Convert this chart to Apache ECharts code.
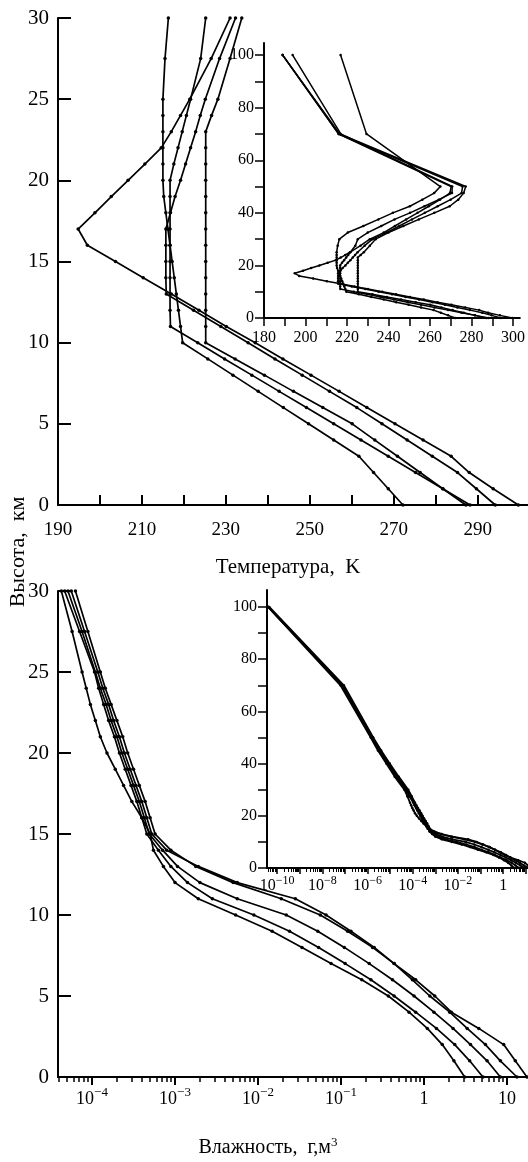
<!DOCTYPE html>
<html><head><meta charset="utf-8">
<script src="https://cdn.jsdelivr.net/npm/echarts@6/dist/echarts.min.js"></script>
<style>html,body{margin:0;padding:0;background:#fff}#c{width:528px;height:1162px}</style>
</head><body><div id="c"></div>
<script>
// ---------- DATA ----------
// altitudes (km) of the 0-30 km profiles
const altMain = [0,1,2,3,4,5,6,7,8,9,10,11,12,13,14,15,16,17,18,19,20,21,22,23,24,25,27.5,30];
// extra altitudes used only in the 0-100 km insets
const altInsetT = [32.5,35,37.5,40,42.5,45,47.5,50,70,100];
const altInsetH = [35,40,45,50,70,100];

// Temperature, K (0-30 km)
const tTrop = [299.7,293.7,288.0,283.7,277.0,270.3,263.6,257.0,250.3,243.6,237.0,230.1,223.6,217.0,210.3,203.7,197.0,194.8,198.8,202.7,206.7,210.7,214.6,217.0,219.2,221.4,226.5,231.0];
const tMLS  = [294.2,289.7,285.2,279.2,273.2,267.2,261.2,254.7,248.2,241.7,235.3,228.8,222.3,215.8,215.7,215.7,215.7,215.7,216.8,217.9,219.2,220.4,221.6,222.8,223.9,225.1,228.5,232.3];
const tMLW  = [272.2,268.7,265.2,261.7,255.7,249.7,243.7,237.7,231.7,225.7,219.7,219.2,218.7,218.2,217.7,217.2,216.7,216.2,215.7,215.2,215.0,215.0,215.0,215.0,215.0,215.0,215.5,216.3];
const tSAS  = [287.2,281.7,276.3,270.9,265.5,260.1,253.1,246.1,239.2,232.2,225.2,225.2,225.2,225.2,225.2,225.2,225.2,225.2,225.2,225.2,225.2,225.2,225.2,225.2,226.6,228.1,231.0,233.8];
const tUS   = [288.2,281.7,275.2,268.7,262.2,255.7,249.2,242.7,236.2,229.7,223.3,216.8,216.7,216.7,216.7,216.7,216.7,216.7,216.7,216.7,216.7,217.6,218.6,219.6,220.6,221.6,224.0,225.2];
// Temperature, K above 30 km (inset)
const tTropUp = [237.7,243.1,248.5,254.0,259.4,264.8,269.6,270.2,216.0,189.0];
const tMLSUp  = [239.0,245.2,251.3,257.5,263.7,269.9,275.2,275.7,216.0,189.0];
const tMLWUp  = [220.4,227.9,235.1,242.1,250.3,256.3,262.0,265.0,229.4,216.9];
const tSASUp  = [240.0,247.2,254.6,262.1,269.5,273.6,276.2,277.2,216.5,189.0];
const tUSUp   = [230.0,236.5,242.9,250.4,257.3,264.2,270.6,270.7,217.0,193.8];

// Humidity: log10 of g/m3 (0-30 km)
const hTrop = [1.24,1.10,0.96,0.66,0.33,0.13,-0.10,-0.36,-0.62,-0.92,-1.25,-1.72,-2.30,-2.75,-3.05,-3.24,-3.30,-3.36,-3.43,-3.50,-3.57,-3.63,-3.70,-3.77,-3.84,-3.90,-4.05,-4.20];
const hMLS  = [1.12,0.92,0.74,0.52,0.31,0.07,-0.14,-0.36,-0.60,-0.88,-1.18,-1.55,-2.25,-2.72,-3.10,-3.28,-3.34,-3.40,-3.47,-3.54,-3.61,-3.67,-3.74,-3.80,-3.87,-3.93,-4.09,-4.25];
const hSAS  = [0.92,0.76,0.56,0.35,0.12,-0.12,-0.38,-0.66,-0.96,-1.28,-1.66,-2.25,-2.70,-2.97,-3.15,-3.31,-3.37,-3.43,-3.50,-3.57,-3.64,-3.70,-3.77,-3.83,-3.90,-3.96,-4.12,-4.29];
const hUS   = [0.71,0.55,0.37,0.15,-0.10,-0.36,-0.64,-0.95,-1.27,-1.62,-2.05,-2.55,-2.85,-3.05,-3.20,-3.34,-3.40,-3.46,-3.53,-3.60,-3.67,-3.73,-3.80,-3.86,-3.92,-3.97,-4.15,-4.33];
const hMLW  = [0.49,0.36,0.22,0.04,-0.18,-0.43,-0.75,-1.12,-1.47,-1.83,-2.27,-2.72,-3.00,-3.14,-3.26,-3.30,-3.40,-3.52,-3.62,-3.72,-3.82,-3.90,-3.96,-4.02,-4.07,-4.12,-4.24,-4.37];
// Humidity above 30 km (inset), log10 g/m3
const hTropUp = [-4.62,-5.02,-5.40,-5.75,-7.05,-10.35];
const hMLSUp  = [-4.66,-5.05,-5.43,-5.78,-7.10,-10.40];
const hSASUp  = [-4.70,-5.08,-5.46,-5.80,-7.10,-10.40];
const hUSUp   = [-4.74,-5.12,-5.50,-5.83,-7.15,-10.40];
const hMLWUp  = [-4.80,-5.17,-5.54,-5.86,-7.20,-10.40];

// tick / label values
const tMainTicks = [190,200,210,220,230,240,250,260,270,280,290];
const tMainLabels = [190,210,230,250,270,290];
const tInsetTicks = [180,190,200,210,220,230,240,250,260,270,280,290,300];
const tInsetLabels = [180,200,220,240,260,280,300];
const altMainTicks = [0,5,10,15,20,25,30];
const altInsetTicks = [0,10,20,30,40,50,60,70,80,90,100];
const altInsetLabels = [0,20,40,60,80,100];
const hMainDecades = [-4,-3,-2,-1,0,1];
const hInsetDecades = [-10,-9,-8,-7,-6,-5,-4,-3,-2,-1,0,1];
const hInsetLabels = [-10,-8,-6,-4,-2,0];

// ---------- CHART ----------
const FONT = 'Liberation Serif';
const chart = echarts.init(document.getElementById('c'), null, {renderer:'canvas'});

function minorTicks(lo, hi){
  const out=[];
  for(let n=Math.floor(lo)-1;n<=Math.ceil(hi);n++){
    for(let k=2;k<=9;k++){const v=n+Math.log10(k); if(v>lo&&v<hi) out.push(v);}
  }
  return out;
}
function pow10Label(v){
  if (v===0) return '{b|1}';
  if (v===1) return '{b|10}';
  return '{b|10}{s|\u2212'+(-v)+'}';
}
function axisBase(extra){
  return Object.assign({
    type:'value', splitLine:{show:false},
    axisLine:{show:true,onZero:false,lineStyle:{color:'#000',width:2}},
  }, extra);
}
const profilesT = [[tTrop,tTropUp],[tMLS,tMLSUp],[tMLW,tMLWUp],[tSAS,tSASUp],[tUS,tUSUp]];
const profilesH = [[hTrop,hTropUp],[hMLS,hMLSUp],[hMLW,hMLWUp],[hSAS,hSASUp],[hUS,hUSUp]];

const series=[];
function addLine(data,xi,yi,size,w){
  series.push({type:'line',xAxisIndex:xi,yAxisIndex:yi,data:data,symbol:'circle',symbolSize:size,
    showSymbol:true,silent:true,animation:false,
    lineStyle:{color:'#000',width:w},itemStyle:{color:'#000'}});
}
profilesT.forEach(([lo,up])=>{
  addLine(altMain.map((a,i)=>[lo[i],a]),0,0,3.5,1.7);
  addLine(altMain.map((a,i)=>[lo[i],a]).concat(altInsetT.map((a,i)=>[up[i],a])),1,1,2.5,1.5);
});
profilesH.forEach(([lo,up])=>{
  addLine(altMain.map((a,i)=>[lo[i],a]),2,2,3.5,1.7);
  addLine(altMain.map((a,i)=>[lo[i],a]).concat(altInsetH.map((a,i)=>[up[i],a])),4,3,2.5,1.8);
});

const option = {
  animation:false,
  backgroundColor:'#fff',
  grid:[
    {left:58, top:18, width:470, height:487},
    {left:264, top:43, width:262, height:275},
    {left:58, top:591, width:470, height:486},
    {left:267, top:590, width:261, height:278}
  ],
  xAxis:[
    axisBase({gridIndex:0,min:190,max:302,position:'bottom',
      axisTick:{show:true,inside:true,length:10,customValues:tMainTicks,lineStyle:{color:'#000',width:2}},
      axisLabel:{show:true,customValues:tMainLabels,margin:16,color:'#000',fontFamily:FONT,fontSize:19}}),
    axisBase({gridIndex:1,min:180,max:303.3,position:'bottom',
      axisTick:{show:true,inside:false,length:8,customValues:tInsetTicks,lineStyle:{color:'#000',width:1.5}},
      axisLabel:{show:true,customValues:tInsetLabels,margin:12,color:'#000',fontFamily:FONT,fontSize:16}}),
    axisBase({gridIndex:2,min:-4.41,max:1.253,position:'bottom',
      axisTick:{show:true,inside:false,length:8,customValues:hMainDecades,lineStyle:{color:'#000',width:2}},
      axisLabel:{show:true,customValues:hMainDecades,margin:9,color:'#000',formatter:pow10Label,
        rich:{b:{fontFamily:FONT,fontSize:18,lineHeight:26,color:'#000'},
              s:{fontFamily:FONT,fontSize:13,lineHeight:13,verticalAlign:'top',color:'#000'}}}}),
    axisBase({gridIndex:2,min:-4.41,max:1.253,position:'bottom',offset:0,
      axisLine:{show:false},
      axisTick:{show:true,inside:false,length:5,customValues:minorTicks(-4.41,1.253),lineStyle:{color:'#000',width:1.5}},
      axisLabel:{show:false}}),
    axisBase({gridIndex:3,min:-10.45,max:1.1,position:'bottom',
      axisTick:{show:true,inside:false,length:6,customValues:hInsetDecades,lineStyle:{color:'#000',width:1.5}},
      axisLabel:{show:true,customValues:hInsetLabels,margin:7,color:'#000',formatter:pow10Label,
        rich:{b:{fontFamily:FONT,fontSize:16,lineHeight:22,color:'#000'},
              s:{fontFamily:FONT,fontSize:12,lineHeight:12,verticalAlign:'top',color:'#000'}}}}),
    axisBase({gridIndex:3,min:-10.45,max:1.1,position:'bottom',offset:0,
      axisLine:{show:false},
      axisTick:{show:true,inside:false,length:4,customValues:minorTicks(-10.45,1.1),lineStyle:{color:'#000',width:1}},
      axisLabel:{show:false}})
  ],
  yAxis:[
    axisBase({gridIndex:0,min:0,max:30,position:'left',
      axisTick:{show:true,inside:true,length:13,customValues:altMainTicks,lineStyle:{color:'#000',width:2}},
      axisLabel:{show:true,customValues:altMainTicks,margin:9,color:'#000',fontFamily:FONT,fontSize:21}}),
    axisBase({gridIndex:1,min:0,max:104.6,position:'left',
      axisTick:{show:true,inside:false,length:9,customValues:altInsetTicks,lineStyle:{color:'#000',width:1.5}},
      axisLabel:{show:true,customValues:altInsetLabels,margin:10,color:'#000',fontFamily:FONT,fontSize:16}}),
    axisBase({gridIndex:2,min:0,max:30,position:'left',
      axisTick:{show:true,inside:true,length:13,customValues:altMainTicks,lineStyle:{color:'#000',width:2}},
      axisLabel:{show:true,customValues:altMainTicks,margin:9,color:'#000',fontFamily:FONT,fontSize:21}}),
    axisBase({gridIndex:3,min:0,max:106.5,position:'left',
      axisTick:{show:true,inside:false,length:9,customValues:altInsetTicks,lineStyle:{color:'#000',width:1.5}},
      axisLabel:{show:true,customValues:altInsetLabels,margin:10,color:'#000',fontFamily:FONT,fontSize:16}})
  ],
  graphic:[
    {type:'text',x:288,y:567,style:{text:'Температура,  K',font:'21px "Liberation Serif"',fill:'#000',
      textAlign:'center',textVerticalAlign:'middle',align:'center',verticalAlign:'middle'}},
    {type:'text',x:18,y:552,rotation:Math.PI/2,style:{text:'Высота,  км',font:'22px "Liberation Serif"',fill:'#000',
      textAlign:'center',textVerticalAlign:'middle',align:'center',verticalAlign:'middle'}},
    {type:'text',x:268,y:1148,style:{text:'{a|Влажность,  г,м}{s|3}',fill:'#000',
      textAlign:'center',textVerticalAlign:'middle',align:'center',verticalAlign:'middle',
      rich:{a:{fontFamily:FONT,fontSize:20,lineHeight:24,fill:'#000'},
            s:{fontFamily:FONT,fontSize:13,lineHeight:13,verticalAlign:'top',fill:'#000'}}}}
  ],
  series:series
};
chart.setOption(option);
</script></body></html>
